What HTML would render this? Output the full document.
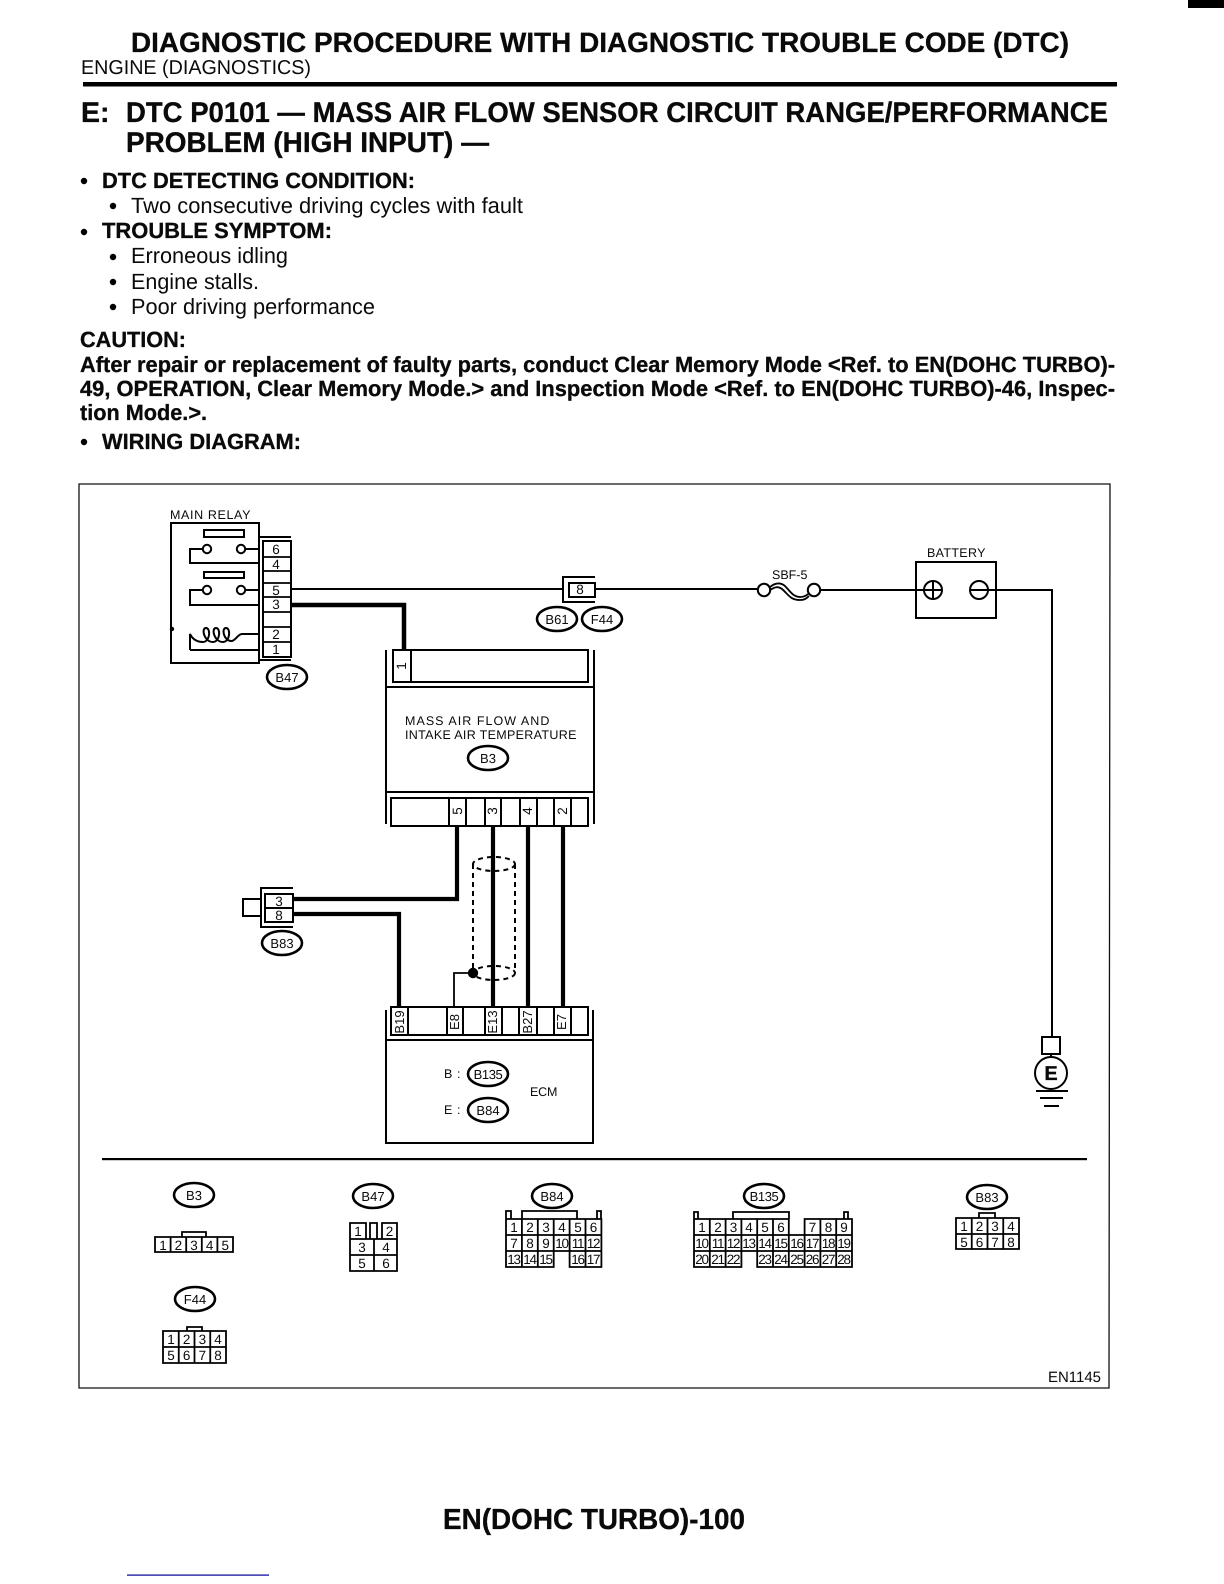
<!DOCTYPE html>
<html><head><meta charset="utf-8"><title>DTC P0101 Wiring Diagram</title>
<style>
html,body{margin:0;padding:0;background:#fff}
svg{display:block}
text{font-family:"Liberation Sans",Arial,sans-serif;fill:#0a0a0a}
.b{font-weight:700;stroke:#000;stroke-width:.3}
.d{font-size:12.5px;letter-spacing:.6px}
.n{font-size:13.5px;text-anchor:middle}
.c{font-size:13.5px;text-anchor:middle}
.r{font-size:13px;text-anchor:middle}
.o{font-size:13px;text-anchor:middle}
.g{fill:none;stroke:#000;stroke-width:1.8}
.w{fill:none;stroke:#000;stroke-width:2}
.t{fill:none;stroke:#000;stroke-width:4.5}
.e{fill:#fff;stroke:#000;stroke-width:2.6}
</style></head><body>
<svg xmlns="http://www.w3.org/2000/svg" width="1224" height="1584" viewBox="0 0 1224 1584" text-rendering="geometricPrecision">
<rect width="1224" height="1584" fill="#fff"/>
<rect x="1188" y="0" width="36" height="8" fill="#000"/>

<!-- Header -->
<text class="b" x="131" y="52" font-size="28" textLength="938" lengthAdjust="spacingAndGlyphs">DIAGNOSTIC PROCEDURE WITH DIAGNOSTIC TROUBLE CODE (DTC)</text>
<text x="81" y="74" font-size="20" textLength="230" lengthAdjust="spacingAndGlyphs">ENGINE (DIAGNOSTICS)</text>
<rect x="83" y="82" width="1034" height="4.5" fill="#000"/>
<text class="b" x="81" y="122" font-size="28.5">E:</text>
<text class="b" x="126" y="122" font-size="28.5" textLength="982" lengthAdjust="spacingAndGlyphs">DTC P0101 — MASS AIR FLOW SENSOR CIRCUIT RANGE/PERFORMANCE</text>
<text class="b" x="126" y="152" font-size="28.5" textLength="363" lengthAdjust="spacingAndGlyphs">PROBLEM (HIGH INPUT) —</text>

<circle cx="84" cy="181" r="3.2" fill="#000"/>
<text class="b" x="102" y="188" font-size="22" textLength="313" lengthAdjust="spacingAndGlyphs">DTC DETECTING CONDITION:</text>
<circle cx="113" cy="206" r="3.2" fill="#000"/>
<text x="131" y="213" font-size="22" textLength="392" lengthAdjust="spacingAndGlyphs">Two consecutive driving cycles with fault</text>
<circle cx="84" cy="232" r="3.2" fill="#000"/>
<text class="b" x="102" y="238" font-size="22" textLength="230" lengthAdjust="spacingAndGlyphs">TROUBLE SYMPTOM:</text>
<circle cx="113" cy="257" r="3.2" fill="#000"/>
<text x="131" y="263" font-size="22" textLength="157" lengthAdjust="spacingAndGlyphs">Erroneous idling</text>
<circle cx="113" cy="282" r="3.2" fill="#000"/>
<text x="131" y="289" font-size="22" textLength="128" lengthAdjust="spacingAndGlyphs">Engine stalls.</text>
<circle cx="113" cy="307" r="3.2" fill="#000"/>
<text x="131" y="314" font-size="22" textLength="244" lengthAdjust="spacingAndGlyphs">Poor driving performance</text>
<text class="b" x="80" y="347" font-size="22" textLength="106" lengthAdjust="spacingAndGlyphs">CAUTION:</text>
<text class="b" x="80" y="372" font-size="22" textLength="1035" lengthAdjust="spacingAndGlyphs">After repair or replacement of faulty parts, conduct Clear Memory Mode &lt;Ref. to EN(DOHC TURBO)-</text>
<text class="b" x="80" y="396" font-size="22" textLength="1035" lengthAdjust="spacingAndGlyphs">49, OPERATION, Clear Memory Mode.&gt; and Inspection Mode &lt;Ref. to EN(DOHC TURBO)-46, Inspec-</text>
<text class="b" x="80" y="420" font-size="22" textLength="127" lengthAdjust="spacingAndGlyphs">tion Mode.&gt;.</text>
<circle cx="84" cy="442" r="3.2" fill="#000"/>
<text class="b" x="102" y="449" font-size="22" textLength="199" lengthAdjust="spacingAndGlyphs">WIRING DIAGRAM:</text>

<!-- Frame -->
<path d="M79,484 L1110,484 L1109,1388 L79,1388 Z" fill="none" stroke="#111" stroke-width="1.3"/>

<!-- Main relay -->
<text class="d" x="170" y="519" textLength="81">MAIN RELAY</text>
<rect x="171" y="523" width="88" height="140" class="w"/>
<rect x="204" y="530" width="40" height="7" class="w"/>
<rect x="204" y="572" width="40" height="6" class="w"/>
<circle cx="207" cy="549" r="4.2" class="w"/><circle cx="241" cy="549" r="4.2" class="w"/>
<circle cx="207" cy="590" r="4.2" class="w"/><circle cx="241" cy="590" r="4.2" class="w"/>
<path class="w" d="M203,549 H190 V563 H259 M245,549 H259 M203,590 H190 V605 H259 M245,590 H259"/>
<path class="w" d="M190,650 V634 C193,640 198,642 203,642 C210,642 211,628 206,628 C201,628 204,642 213,642 C220,642 221,628 216,628 C211,628 214,642 223,642 C230,642 231,628 226,628 C221,628 224,642 232,641 C236,640 238,634 242,634 H259 M190,650 H259"/>
<circle cx="172" cy="629" r="2.2" fill="#000"/>
<path class="w" d="M259,537 H291 M259,660 H291"/>
<rect x="263" y="541" width="28" height="116" class="w" fill="#fff"/>
<path class="g" d="M263,557 H291 M263,571 H291 M263,583 H291 M263,597 H291 M263,612 H291 M263,627 H291 M263,642 H291"/>
<text class="n" x="276" y="554">6</text>
<text class="n" x="276" y="569">4</text>
<text class="n" x="276" y="595">5</text>
<text class="n" x="276" y="609">3</text>
<text class="n" x="276" y="639">2</text>
<text class="n" x="276" y="654">1</text>
<ellipse class="e" cx="287" cy="677" rx="20" ry="12"/><text class="o" x="287" y="682">B47</text>

<!-- Top wires -->
<path class="w" d="M291,589 H563 M595,589 H758"/>
<path class="t" d="M291,605 H404 V650"/>
<path class="w" d="M595,577 H563 V602 H595"/>
<rect x="569" y="583" width="26" height="14" class="w" fill="#fff"/>
<text class="n" x="580" y="594">8</text>
<ellipse class="e" cx="557" cy="619" rx="20" ry="12"/><text class="o" x="557" y="624">B61</text>
<ellipse class="e" cx="602" cy="619" rx="20" ry="12"/><text class="o" x="602" y="624">F44</text>

<!-- Fuse & battery -->
<text class="d" x="772" y="579" textLength="36">SBF-5</text>
<circle cx="764" cy="590" r="6.2" class="w"/><circle cx="814" cy="590" r="6.2" class="w"/>
<path class="g" d="M770,587 C775,583 780,582 785,586 C790,591 793,597 800,597 C804,597 806,596 808,594 M770,590 C775,587 778,586 782,589 C788,594 790,600 800,600 C804,600 806,599 809,596"/>
<path class="w" d="M820,590 H924 M988,590 H1052 V1037"/>
<text class="d" x="927" y="557" textLength="59">BATTERY</text>
<rect x="916" y="562" width="80" height="56" class="w"/>
<circle cx="933" cy="590" r="9" class="w" fill="#fff"/><path class="w" d="M924,590 H942 M933,581 V599"/>
<circle cx="979" cy="590" r="9" class="w" fill="#fff"/><path class="w" d="M970,590 H988"/>

<!-- Ground -->
<rect x="1042" y="1037" width="18" height="17" class="w"/>
<circle cx="1051" cy="1073" r="16" class="w" fill="#fff"/>
<path class="w" d="M1051,1054 V1057"/>
<text class="b" x="1051" y="1080" font-size="20" text-anchor="middle">E</text>
<path class="w" d="M1036,1091 H1068 M1040,1098 H1063 M1044,1106 H1059"/>

<!-- Sensor -->
<path class="w" d="M386,650 V824 M594,650 V824 M386,687 H594 M386,792 H594"/>
<rect x="393" y="650" width="195" height="32" class="w" fill="#fff"/>
<path class="w" d="M411,650 V682"/>
<text class="n" transform="rotate(-90 402 666)" x="402" y="670">1</text>
<text class="d" x="405" y="725" textLength="145">MASS AIR FLOW AND</text>
<text class="d" x="405" y="739" textLength="172">INTAKE AIR TEMPERATURE</text>
<ellipse class="e" cx="488" cy="758" rx="20" ry="12"/><text class="o" x="488" y="763">B3</text>
<rect x="391" y="798" width="197" height="28" class="w" fill="#fff"/>
<path class="w" d="M449,798 V826 M466,798 V826 M485,798 V826 M501,798 V826 M520,798 V826 M537,798 V826 M554,798 V826 M571,798 V826"/>
<text class="n" transform="rotate(-90 458 811)" x="458" y="815">5</text>
<text class="n" transform="rotate(-90 493 811)" x="493" y="815">3</text>
<text class="n" transform="rotate(-90 528 811)" x="528" y="815">4</text>
<text class="n" transform="rotate(-90 563 811)" x="563" y="815">2</text>

<!-- Lower wires -->
<path class="t" style="stroke-width:4.2" d="M457,826 V899 H293 M293,914 H399 V1007 M493,826 V1007 M528,826 V1007 M563,826 V1007"/>
<ellipse cx="494" cy="864" rx="21" ry="7" fill="none" stroke="#000" stroke-width="2" stroke-dasharray="5 4"/>
<ellipse cx="494" cy="973" rx="21" ry="7" fill="none" stroke="#000" stroke-width="2" stroke-dasharray="5 4"/>
<path d="M473,864 V973 M515,864 V973" fill="none" stroke="#000" stroke-width="2" stroke-dasharray="5 4"/>
<circle cx="473" cy="973" r="5.2" fill="#000"/>
<path class="g" d="M473,973 H454 V1007"/>

<!-- Left connector -->
<path class="w" d="M293,888 H261 V927 H293"/>
<rect x="243" y="899" width="18" height="17" class="w"/>
<rect x="265" y="894" width="28" height="28" class="w" fill="#fff"/>
<path class="w" d="M265,908 H293"/>
<text class="n" x="279" y="906">3</text>
<text class="n" x="279" y="920">8</text>
<ellipse class="e" cx="282" cy="943" rx="20" ry="12"/><text class="o" x="282" y="948">B83</text>

<!-- ECM -->
<path class="w" d="M386,1010 V1143 H593 V1010 M386,1040 H593"/>
<rect x="391" y="1007" width="197" height="28" class="w" fill="#fff"/>
<path class="w" d="M408,1007 V1035 M447,1007 V1035 M463,1007 V1035 M485,1007 V1035 M502,1007 V1035 M519,1007 V1035 M537,1007 V1035 M554,1007 V1035 M571,1007 V1035"/>
<text class="r" transform="rotate(-90 400 1022)" x="400" y="1026">B19</text>
<text class="r" transform="rotate(-90 455 1022)" x="455" y="1026">E8</text>
<text class="r" transform="rotate(-90 493 1022)" x="493" y="1026">E13</text>
<text class="r" transform="rotate(-90 528 1022)" x="528" y="1026">B27</text>
<text class="r" transform="rotate(-90 562 1022)" x="562" y="1026">E7</text>
<text class="d" x="444" y="1078">B :</text>
<text class="d" x="444" y="1114">E :</text>
<ellipse class="e" cx="488" cy="1074" rx="20" ry="12"/><text class="o" x="488" y="1079" style="letter-spacing:-.4px">B135</text>
<ellipse class="e" cx="488" cy="1110" rx="20" ry="12"/><text class="o" x="488" y="1115">B84</text>
<text class="d" x="530" y="1096" textLength="28">ECM</text>

<!-- Separator -->
<rect x="102" y="1158" width="985" height="2.2" fill="#000"/>

<!-- B3 connector -->
<ellipse class="e" cx="194" cy="1195" rx="20" ry="12"/><text class="o" x="194" y="1200">B3</text>
<path class="g" d="M182,1237 V1232 H206 V1237 M155,1237 H233 V1252 H155 Z M170.6,1237 V1252 M186.2,1237 V1252 M201.8,1237 V1252 M217.4,1237 V1252"/>
<text class="c" x="163" y="1250">1</text><text class="c" x="178.4" y="1250">2</text><text class="c" x="194" y="1250">3</text><text class="c" x="209.6" y="1250">4</text><text class="c" x="225.2" y="1250">5</text>

<!-- B47 connector -->
<ellipse class="e" cx="373" cy="1196" rx="20" ry="12"/><text class="o" x="373" y="1201">B47</text>
<path class="g" d="M350,1239 V1223 H366 V1239 M370,1239 V1223 H377 V1239 M382,1239 V1223 H397 V1239 M350,1239 H397 V1271 H350 Z M350,1255 H397 M374,1239 V1271"/>
<text class="c" x="358" y="1236">1</text><text class="c" x="389.5" y="1236">2</text>
<text class="c" x="362" y="1252">3</text><text class="c" x="386" y="1252">4</text>
<text class="c" x="362" y="1268">5</text><text class="c" x="386" y="1268">6</text>

<!-- B84 connector -->
<ellipse class="e" cx="552" cy="1196" rx="20" ry="12"/><text class="o" x="552" y="1201">B84</text>
<path class="g" d="M506,1219 V1211 H511 V1219 M522,1219 V1211 H577 V1219 M597,1219 V1211 H601 V1219 M506,1219 H601.4 V1267 H569.6 V1251 H553.7 V1267 H506 Z M506,1235 H601.4 M506,1251 H601.4 M521.9,1219 V1267 M537.8,1219 V1267 M553.7,1219 V1251 M569.6,1219 V1251 M585.5,1219 V1267"/>
<text class="c" x="514" y="1232">1</text><text class="c" x="530" y="1232">2</text><text class="c" x="546" y="1232">3</text><text class="c" x="562" y="1232">4</text><text class="c" x="578" y="1232">5</text><text class="c" x="593.5" y="1232">6</text>
<text class="c" x="514" y="1248">7</text><text class="c" x="530" y="1248">8</text><text class="c" x="546" y="1248">9</text>
<g style="letter-spacing:-1.2px"><text class="c" x="561.5" y="1248">10</text><text class="c" x="577.5" y="1248">11</text><text class="c" x="593" y="1248">12</text>
<text class="c" x="513.5" y="1264">13</text><text class="c" x="529.5" y="1264">14</text><text class="c" x="545.5" y="1264">15</text><text class="c" x="577.5" y="1264">16</text><text class="c" x="593" y="1264">17</text></g>

<!-- B135 connector -->
<ellipse class="e" cx="764" cy="1196" rx="20" ry="12"/><text class="o" x="764" y="1201" style="letter-spacing:-.4px">B135</text>
<path class="g" d="M694,1219 V1212 H698 V1219 M733,1219 V1212 H789 V1219 M844,1219 V1212 H848 V1219 M694,1219 H788.8 V1235 H804.6 V1219 H852 V1267 H757.2 V1251 H741.4 V1267 H694 Z M694,1235 H852 M694,1251 H852 M709.8,1219 V1267 M725.6,1219 V1267 M741.4,1219 V1251 M757.2,1219 V1251 M773,1219 V1267 M788.8,1235 V1267 M804.6,1235 V1267 M820.4,1219 V1267 M836.2,1219 V1267"/>
<text class="c" x="702" y="1232">1</text><text class="c" x="718" y="1232">2</text><text class="c" x="733.5" y="1232">3</text><text class="c" x="749" y="1232">4</text><text class="c" x="765" y="1232">5</text><text class="c" x="781" y="1232">6</text><text class="c" x="812.5" y="1232">7</text><text class="c" x="828.5" y="1232">8</text><text class="c" x="844" y="1232">9</text>
<g style="letter-spacing:-1.2px"><text class="c" x="701.5" y="1248">10</text><text class="c" x="717.5" y="1248">11</text><text class="c" x="733" y="1248">12</text><text class="c" x="748.5" y="1248">13</text><text class="c" x="764.5" y="1248">14</text><text class="c" x="780.5" y="1248">15</text><text class="c" x="796.5" y="1248">16</text><text class="c" x="812" y="1248">17</text><text class="c" x="828" y="1248">18</text><text class="c" x="843.5" y="1248">19</text>
<text class="c" x="701.5" y="1264">20</text><text class="c" x="717.5" y="1264">21</text><text class="c" x="733" y="1264">22</text><text class="c" x="764.5" y="1264">23</text><text class="c" x="780.5" y="1264">24</text><text class="c" x="796.5" y="1264">25</text><text class="c" x="812" y="1264">26</text><text class="c" x="828" y="1264">27</text><text class="c" x="843.5" y="1264">28</text></g>

<!-- B83 connector -->
<ellipse class="e" cx="987" cy="1197" rx="20" ry="12"/><text class="o" x="987" y="1202">B83</text>
<path class="g" d="M979,1218 V1213 H995 V1218 M956,1218 H1019 V1249 H956 Z M956,1234 H1019 M971.75,1218 V1249 M987.5,1218 V1249 M1003.25,1218 V1249"/>
<text class="c" x="964" y="1231">1</text><text class="c" x="979.5" y="1231">2</text><text class="c" x="995" y="1231">3</text><text class="c" x="1011" y="1231">4</text>
<text class="c" x="964" y="1247">5</text><text class="c" x="979.5" y="1247">6</text><text class="c" x="995" y="1247">7</text><text class="c" x="1011" y="1247">8</text>

<!-- F44 connector -->
<ellipse class="e" cx="195" cy="1299" rx="20" ry="12"/><text class="o" x="195" y="1304">F44</text>
<path class="g" d="M187,1331 V1327 H202 V1331 M163,1331 H226 V1363 H163 Z M163,1347 H226 M178.75,1331 V1363 M194.5,1331 V1363 M210.25,1331 V1363"/>
<text class="c" x="171" y="1344">1</text><text class="c" x="186.6" y="1344">2</text><text class="c" x="202.4" y="1344">3</text><text class="c" x="218" y="1344">4</text>
<text class="c" x="171" y="1360">5</text><text class="c" x="186.6" y="1360">6</text><text class="c" x="202.4" y="1360">7</text><text class="c" x="218" y="1360">8</text>

<text x="1048" y="1382" font-size="15" textLength="53" lengthAdjust="spacingAndGlyphs">EN1145</text>

<!-- Footer -->
<text class="b" x="443" y="1529" font-size="29" textLength="302" lengthAdjust="spacingAndGlyphs">EN(DOHC TURBO)-100</text>
<rect x="127" y="1574.5" width="142" height="1.2" fill="#00009a"/>
</svg>
</body></html>
